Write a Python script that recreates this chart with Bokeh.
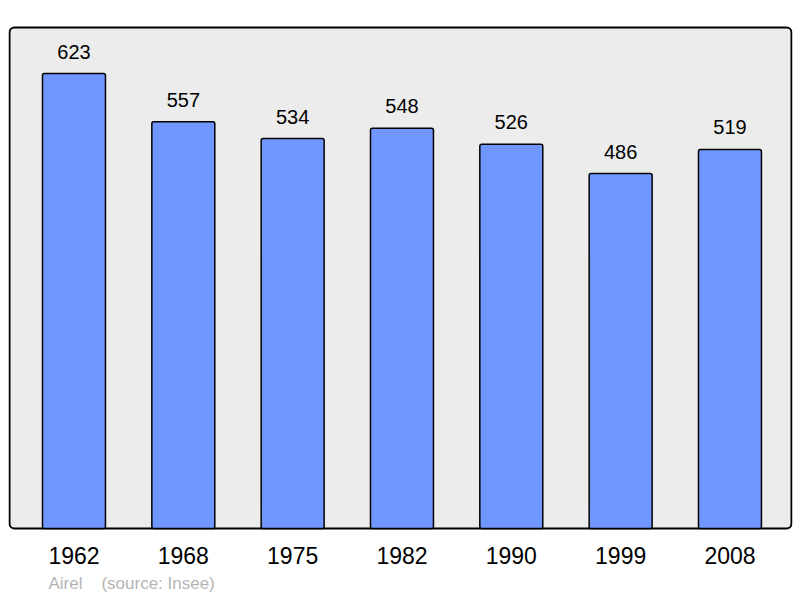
from bokeh.plotting import figure
from bokeh.models import Range1d, FixedTicker, ColumnDataSource, Title
from bokeh.embed import file_html
from bokeh.resources import INLINE

years = ["1962", "1968", "1975", "1982", "1990", "1999", "2008"]
population = [623, 557, 534, 548, 526, 486, 519]
source_left = "Airel"
source_right = "(source: Insee)"

FONT = "Liberation Sans"
idx = list(range(len(years)))
src = ColumnDataSource(dict(x=idx, top=population, label=[str(v) for v in population]))

X0, X1 = -0.599, 6.572
Y0, Y1 = -5.48, 690.1
BOX_TOP = 686.0

p = figure(width=800, height=598, output_backend="svg", toolbar_location=None,
           x_range=Range1d(X0, X1), y_range=Range1d(Y0, Y1),
           min_border_left=8, min_border_right=8, min_border_top=24, min_border_bottom=66)
p.background_fill_color = "white"
p.border_fill_color = "white"
p.outline_line_color = None
p.grid.visible = False
p.yaxis.visible = False

span = (X1 - X0) / 784.0
p.quad(left=[X0 + span * 1.0], right=[X1 - span * 1.0], bottom=[0], top=[BOX_TOP],
       fill_color="#ececec", line_color="black", line_width=2, border_radius=5)

p.vbar(x="x", top="top", bottom=0, width=0.576, source=src,
       fill_color="#7096ff", line_color="black", line_width=1.5, border_radius=2)

p.text(x="x", y="top", text="label", source=src, y_offset=-22,
       text_align="center", text_baseline="alphabetic",
       text_font={"value": FONT}, text_font_size="20px", text_color="black")

ax = p.xaxis[0]
ax.ticker = FixedTicker(ticks=idx)
ax.major_label_overrides = {i: y for i, y in zip(idx, years)}
ax.axis_line_color = None
ax.major_tick_line_color = None
ax.minor_tick_line_color = None
ax.major_label_text_font = FONT
ax.major_label_text_font_size = "23px"
ax.major_label_text_color = "black"
ax.major_label_standoff = 8

nb = "\u00a0" * 4
p.add_layout(Title(text=source_left + nb + source_right, align="left", offset=40,
                   text_font=FONT, text_font_size="17px", text_font_style="normal",
                   text_color="#b4b4b4", standoff=10), "below")

open("out.html", "w").write(file_html(p, INLINE))
